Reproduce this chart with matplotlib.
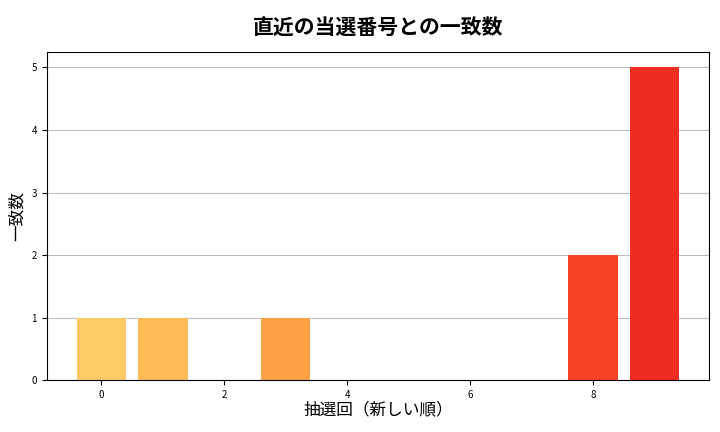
import matplotlib
matplotlib.use("Agg")
import matplotlib.pyplot as plt
import numpy as np

plt.rcParams['font.family'] = ['Noto Sans CJK JP', 'DejaVu Sans']

draws = list(range(10))
matches = [1, 1, 0, 1, 0, 0, 0, 0, 2, 5]
title = "直近の当選番号との一致数"
xlabel = "抽選回（新しい順）"
ylabel = "一致数"

fig, ax = plt.subplots(figsize=(7.2, 4.32), dpi=100)
colors = plt.cm.YlOrRd(np.linspace(0.3, 0.7, len(draws)))
ax.bar(draws, matches, color=colors, zorder=2)
ax.set_title(title, fontsize=15, fontweight='bold', pad=12)
ax.set_xlabel(xlabel, fontsize=12, labelpad=2)
ax.set_ylabel(ylabel, fontsize=12)
ax.tick_params(labelsize=7)
ax.yaxis.grid(True, color='#bbbbbb', linewidth=0.8, zorder=0)
ax.set_axisbelow(True)
fig.subplots_adjust(left=0.065, right=0.985, top=0.88, bottom=0.12)
fig.savefig("out.png")
